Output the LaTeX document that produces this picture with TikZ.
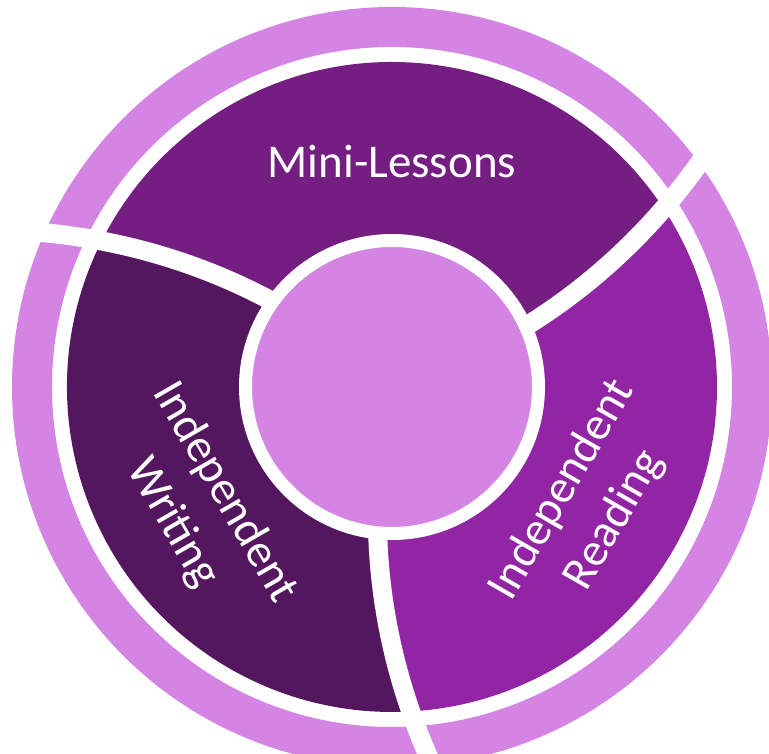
\documentclass[tikz,border=0pt]{standalone}
\usepackage{fontspec}
\setmainfont{Carlito}
\definecolor{ringc}{HTML}{D485E3}
\definecolor{minic}{HTML}{741E82}
\definecolor{writec}{HTML}{54165E}
\definecolor{readc}{HTML}{9125A3}

\begin{document}
\begin{tikzpicture}[x=1pt,y=1pt,
declare function={twist(\r)=-5.3+0.05*(\r-153);},
hub/.style = {circle, fill=ringc, draw=white, line width=13pt, minimum size=293pt, inner sep=0pt},
divider/.style = {draw=white, line width=19pt},
label text/.style = {text=white, align=center, font=\fontsize{47}{60}\selectfont}]

\useasboundingbox (-392,-367) rectangle (377,387);

% outer ring
\fill[ringc,even odd rule] (0,0) circle (380) (0,0) circle (340);

% three segments, bounded by the twisted dividers
\fill[minic] (0,0) -- plot[domain=150:325] ({30+twist(\x)}:\x)
  arc[start angle={30+twist(325)}, end angle={150+twist(325)}, radius=325]
  -- plot[domain=325:150] ({150+twist(\x)}:\x) -- cycle;
\fill[writec] (0,0) -- plot[domain=150:325] ({150+twist(\x)}:\x)
  arc[start angle={150+twist(325)}, end angle={270+twist(325)}, radius=325]
  -- plot[domain=325:150] ({270+twist(\x)}:\x) -- cycle;
\fill[readc] (0,0) -- plot[domain=150:325] ({270+twist(\x)}:\x)
  arc[start angle={270+twist(325)}, end angle={390+twist(325)}, radius=325]
  -- plot[domain=325:150] ({390+twist(\x)}:\x) -- cycle;

% white gaps
\path[divider] plot[domain=140:400] ({30+twist(\x)}:\x);
\path[divider] plot[domain=140:400] ({150+twist(\x)}:\x);
\path[divider] plot[domain=140:400] ({270+twist(\x)}:\x);

\node[hub] (hub) at (0,0) {};

\node[label text] (mini) at (90:225) {Mini-Lessons};
\node[label text, rotate=-60] (writing) at (212:228) {Independent\\Writing};
\node[label text, rotate=60] (reading) at (329:229) {Independent\\Reading};
\end{tikzpicture}
\end{document}
